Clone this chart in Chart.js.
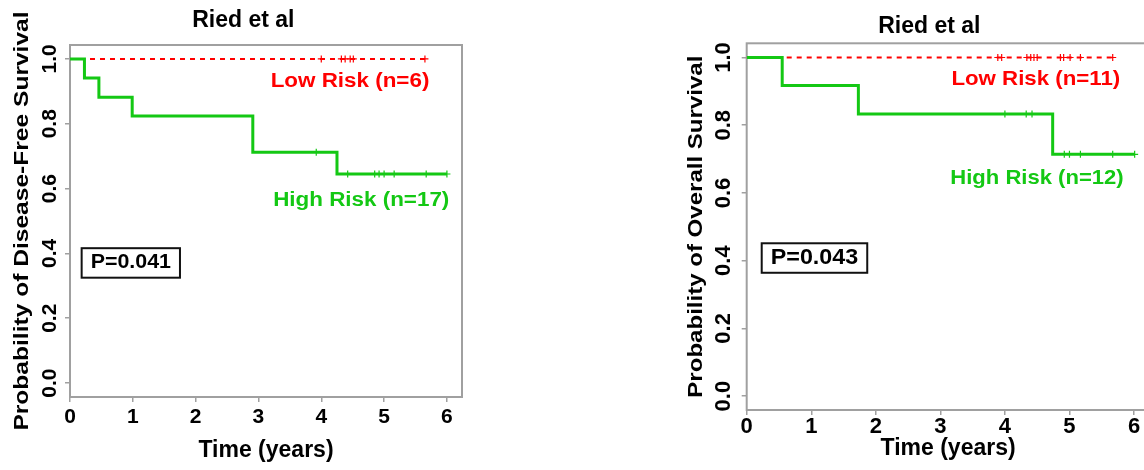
<!DOCTYPE html>
<html>
<head>
<meta charset="utf-8">
<script src="https://cdn.jsdelivr.net/npm/chart.js@4.4.1/dist/chart.umd.min.js"></script>
<style>
  html, body { margin: 0; padding: 0; background: #fff; overflow: hidden; }
  body { width: 1144px; height: 470px; position: relative; }
  .panel { position: absolute; top: 0; }
  #dfsPanel { left: 0; }
  #osPanel { left: 680px; }
</style>
</head>
<body>
<div class="panel" id="dfsPanel"><canvas id="dfsChart" width="480" height="470"></canvas></div>
<div class="panel" id="osPanel"><canvas id="osChart" width="480" height="470"></canvas></div>
<script>
// ── Disease-free survival: step times / survival, censored times ──
const dfsHighTimes = [0, 0.23, 0.46, 0.99, 2.91, 4.25];
const dfsHighSurv = [1.0, 0.941, 0.882, 0.824, 0.712, 0.645];
const dfsHighEnd = 6.0;
const dfsHighCensor = [3.92, 4.42, 4.85, 4.92, 5.0, 5.16, 5.67, 6.0];
const dfsLowTimes = [0];
const dfsLowSurv = [1.0];
const dfsLowEnd = 5.65;
const dfsLowCensor = [4.0, 4.32, 4.38, 4.46, 4.51, 5.65];

// ── Overall survival ──
const osHighTimes = [0, 0.55, 1.73, 4.74];
const osHighSurv = [1.0, 0.917, 0.833, 0.714];
const osHighEnd = 6.01;
const osHighCensor = [4.0, 4.33, 4.42, 4.92, 5.0, 5.17, 5.67, 6.01];
const osLowTimes = [0];
const osLowSurv = [1.0];
const osLowEnd = 5.67;
const osLowCensor = [3.89, 3.95, 4.34, 4.4, 4.45, 4.5, 4.86, 4.91, 5.01, 5.17, 5.67];

// ── Axis ticks ──
const xTicks = [0, 1, 2, 3, 4, 5, 6];
const yTicks = [0, 0.2, 0.4, 0.6, 0.8, 1.0];

const FONT = "'Liberation Sans', Arial, sans-serif";
const GREEN = '#14c814';
const RED = '#ff0000';
const FRAME = '#a0a0a0';

// survival value of a step curve at time t
function survAt(times, surv, t) {
    let s = surv[0];
    times.forEach((tt, i) => { if (tt <= t) s = surv[i]; });
    return s;
}

function curvePoints(times, surv, end) {
    const pts = times.map((t, i) => ({ x: t, y: surv[i] }));
    pts.push({ x: end, y: surv[surv.length - 1] });
    return pts;
}

function censorPoints(times, surv, censor) {
    return censor.map(t => ({ x: t, y: survAt(times, surv, t) }));
}

// text with its cap-height centred on (cx, cy), stretched along the text direction
function capText(ctx, str, cx, cy, size, sx, color, rot) {
    ctx.save();
    ctx.translate(cx, cy);
    if (rot) ctx.rotate(rot);
    ctx.scale(sx, 1);
    ctx.font = `bold ${size}px ${FONT}`;
    ctx.fillStyle = color;
    ctx.textAlign = 'center';
    ctx.textBaseline = 'alphabetic';
    ctx.fillText(str, 0, size * 0.358);
    const w = ctx.measureText(str).width * sx;
    ctx.restore();
    return w;
}

// ── Frame, titles, group labels and p-value box ──
const kmText = {
    id: 'kmText',
    beforeDatasetsDraw(chart) {
        const { ctx, chartArea: a } = chart;
        ctx.save();
        ctx.strokeStyle = FRAME;
        ctx.lineWidth = 2;
        ctx.strokeRect(a.left, a.top, a.right - a.left, a.bottom - a.top);
        ctx.restore();
    },
    afterDraw(chart, args, o) {
        const { ctx, chartArea: a, scales: { x, y } } = chart;
        const t = o.title;
        capText(ctx, t.text, x.getPixelForValue(t.x), a.top + t.dy, t.size, 1, '#000');
        const yt = o.yTitle;
        capText(ctx, yt.text, yt.x, (a.top + a.bottom) / 2, yt.size, yt.sx, '#000', -Math.PI / 2);
        o.notes.forEach(n => {
            capText(ctx, n.text, x.getPixelForValue(n.x), y.getPixelForValue(n.y), n.size, n.sx, n.color);
        });
        const p = o.pBox;
        const px = x.getPixelForValue(p.x), py = y.getPixelForValue(p.y);
        const w = capText(ctx, p.text, px, py, p.size, p.sx, '#000');
        ctx.save();
        ctx.strokeStyle = '#111';
        ctx.lineWidth = 2;
        ctx.strokeRect(px - w / 2 - 9, py - 13, w + 18, 29.5);
        ctx.restore();
    }
};

function kmChart(canvasId, p) {
    const tickFont = { family: FONT, size: p.tickSize, weight: 'bold' };
    return new Chart(document.getElementById(canvasId), {
        type: 'line',
        data: {
            datasets: [
                {
                    data: curvePoints(p.high.times, p.high.surv, p.high.end),
                    borderColor: GREEN, borderWidth: 3, stepped: true,
                    pointRadius: 0, fill: false, order: 0
                },
                {
                    data: censorPoints(p.high.times, p.high.surv, p.high.censor),
                    showLine: false, pointStyle: 'cross', pointRadius: 3.5,
                    borderColor: GREEN, borderWidth: 1.2, order: 0
                },
                {
                    data: curvePoints(p.low.times, p.low.surv, p.low.end),
                    borderColor: RED, borderWidth: 2, borderDash: [5, 5], stepped: true,
                    pointRadius: 0, fill: false, order: 2
                },
                {
                    data: censorPoints(p.low.times, p.low.surv, p.low.censor),
                    showLine: false, pointStyle: 'cross', pointRadius: 3.5,
                    borderColor: RED, borderWidth: 1.2, order: 1
                }
            ]
        },
        options: {
            responsive: false,
            devicePixelRatio: 1,
            animation: false,
            events: [],
            layout: { padding: p.padding },
            plugins: {
                legend: { display: false },
                tooltip: { enabled: false },
                kmText: p.text
            },
            scales: {
                x: {
                    type: 'linear', min: 0, max: 6.24, bounds: 'data',
                    afterBuildTicks: s => { s.ticks = xTicks.map(v => ({ value: v })); },
                    afterFit: s => { s.height = p.xAxisHeight; },
                    grid: { drawOnChartArea: false, drawTicks: true, tickLength: 5, color: FRAME, lineWidth: 1.5 },
                    border: { display: false },
                    ticks: {
                        font: tickFont, color: '#000', padding: p.xTickPad,
                        maxRotation: 0, autoSkip: false, callback: v => String(v)
                    },
                    title: {
                        display: true, text: 'Time (years)', color: '#000',
                        font: { family: FONT, size: 23, weight: 'bold', lineHeight: 1.2 },
                        padding: { top: 0, bottom: p.xTitlePad }
                    }
                },
                y: {
                    type: 'linear', min: p.yMin, max: p.yMax, bounds: 'data',
                    afterBuildTicks: s => { s.ticks = yTicks.map(v => ({ value: v })); },
                    afterFit: s => { s.width = p.yAxisWidth; },
                    grid: { drawOnChartArea: false, drawTicks: true, tickLength: 5, color: FRAME, lineWidth: 1.5 },
                    border: { display: false },
                    ticks: {
                        font: tickFont, color: '#000', padding: p.yTickPad,
                        minRotation: 90, maxRotation: 90, crossAlign: 'center',
                        autoSkip: false, callback: v => v.toFixed(1)
                    }
                }
            }
        },
        plugins: [kmText]
    });
}

kmChart('dfsChart', {
    high: { times: dfsHighTimes, surv: dfsHighSurv, end: dfsHighEnd, censor: dfsHighCensor },
    low: { times: dfsLowTimes, surv: dfsLowSurv, end: dfsLowEnd, censor: dfsLowCensor },
    padding: { left: 0, top: 45, right: 18, bottom: 0 },
    xAxisHeight: 73, yAxisWidth: 70,
    yMin: -0.043, yMax: 1.043,
    tickSize: 21, xTickPad: 3, yTickPad: 0, xTitlePad: 6,
    text: {
        title: { text: 'Ried et al', x: 2.76, dy: -26, size: 23 },
        yTitle: { text: 'Probability of Disease-Free Survival', x: 20.8, size: 21, sx: 1.17 },
        notes: [
            { text: 'Low Risk (n=6)', x: 4.457, y: 0.937, size: 20, sx: 1.12, color: RED },
            { text: 'High Risk (n=17)', x: 4.636, y: 0.569, size: 20, sx: 1.12, color: GREEN }
        ],
        pBox: { text: 'P=0.041', x: 0.968, y: 0.376, size: 20, sx: 1.07 }
    }
});

kmChart('osChart', {
    high: { times: osHighTimes, surv: osHighSurv, end: osHighEnd, censor: osHighCensor },
    low: { times: osLowTimes, surv: osLowSurv, end: osLowEnd, censor: osLowCensor },
    padding: { left: 0, top: 43.3, right: 10.5, bottom: 0 },
    xAxisHeight: 60, yAxisWidth: 66.7,
    yMin: -0.041, yMax: 1.042,
    tickSize: 22, xTickPad: -1, yTickPad: 2, xTitlePad: 7.5,
    text: {
        title: { text: 'Ried et al', x: 2.83, dy: -18.3, size: 23 },
        yTitle: { text: 'Probability of Overall Survival', x: 14, size: 21, sx: 1.145 },
        notes: [
            { text: 'Low Risk (n=11)', x: 4.479, y: 0.941, size: 21, sx: 1.06, color: RED },
            { text: 'High Risk (n=12)', x: 4.497, y: 0.650, size: 21, sx: 1.05, color: GREEN }
        ],
        pBox: { text: 'P=0.043', x: 1.05, y: 0.413, size: 22, sx: 1.06 }
    }
});
</script>
</body>
</html>
